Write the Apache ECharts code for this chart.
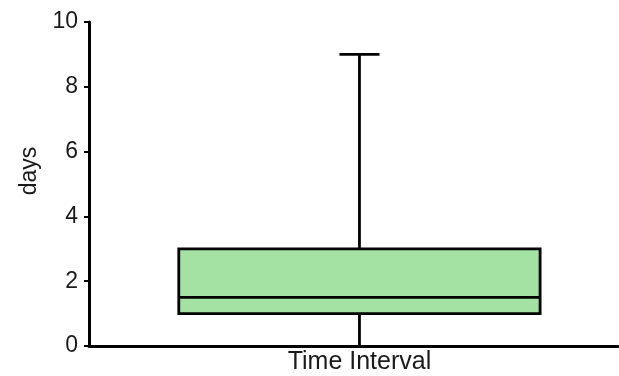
<!DOCTYPE html>
<html><head><meta charset="utf-8">
<script src="https://cdn.jsdelivr.net/npm/echarts@6/dist/echarts.min.js"></script>
<style>html,body{margin:0;padding:0;background:#fff}#c{width:619px;height:376px}</style>
</head><body><div id="c"></div>
<script>
const categories = ['Time Interval'];
// [min, Q1, median, Q3, max]
const boxValues = [[0, 1, 1.5, 3, 9]];
const yTicks = [0, 2, 4, 6, 8, 10];

const chart = echarts.init(document.getElementById('c'));
const data = boxValues.map((v, i) => [i].concat(v));
chart.setOption({
  animation: false,
  grid: {left: 89, top: 22, bottom: 30, right: 1},
  xAxis: {
    type: 'value', min: -0.5, max: 0.478, interval: 0.5,
    axisLine: {show: true, onZero: false, lineStyle: {color: '#000', width: 3}},
    axisTick: {show: false},
    splitLine: {show: false},
    axisLabel: {color: '#1a1a1a', fontSize: 25, fontFamily: 'Liberation Sans, Arial', margin: 4,
      showMinLabel: true, showMaxLabel: false,
      formatter: v => (Math.abs(v - Math.round(v)) < 1e-9 && categories[Math.round(v)] !== undefined) ? categories[Math.round(v)] : ''}
  },
  yAxis: {
    type: 'value', min: 0, max: 10, interval: 2,
    name: 'days', nameLocation: 'middle', nameRotate: 90, nameGap: 46,
    nameTextStyle: {color: '#1a1a1a', fontSize: 23, fontFamily: 'Liberation Sans, Arial', padding: [0, 0, 0, 26]},
    axisLine: {show: true, onZero: false, lineStyle: {color: '#000', width: 3}},
    axisTick: {show: true, length: 5, lineStyle: {color: '#000', width: 2}},
    splitLine: {show: false},
    axisLabel: {color: '#1a1a1a', fontSize: 23, fontFamily: 'Liberation Sans, Arial', margin: 11,
      formatter: v => yTicks.includes(v) ? String(v) : ''}
  },
  series: [{
    type: 'custom',
    data: data,
    renderItem: function (params, api) {
      const x = api.value(0);
      const band = api.size([1, 0])[0];
      const bw = band * 0.668;
      const cw = band * 0.074;
      const pMin = api.coord([x, api.value(1)]);
      const pQ1 = api.coord([x, api.value(2)]);
      const pMed = api.coord([x, api.value(3)]);
      const pQ3 = api.coord([x, api.value(4)]);
      const pMax = api.coord([x, api.value(5)]);
      const cx = pMin[0];
      const ls = {stroke: '#000', lineWidth: 2.8};
      return {
        type: 'group',
        children: [
          {type: 'line', shape: {x1: cx, y1: pQ3[1], x2: cx, y2: pMax[1]}, style: ls},
          {type: 'line', shape: {x1: cx - cw / 2, y1: pMax[1], x2: cx + cw / 2, y2: pMax[1]}, style: ls},
          {type: 'line', shape: {x1: cx, y1: pQ1[1], x2: cx, y2: pMin[1]}, style: ls},
          {type: 'rect', shape: {x: cx - bw / 2, y: pQ3[1], width: bw, height: pQ1[1] - pQ3[1]},
            style: {fill: '#a4e2a4', stroke: '#000', lineWidth: 2.8}},
          {type: 'line', shape: {x1: cx - bw / 2, y1: pMed[1], x2: cx + bw / 2, y2: pMed[1]}, style: ls}
        ]
      };
    }
  }]
});
</script></body></html>
